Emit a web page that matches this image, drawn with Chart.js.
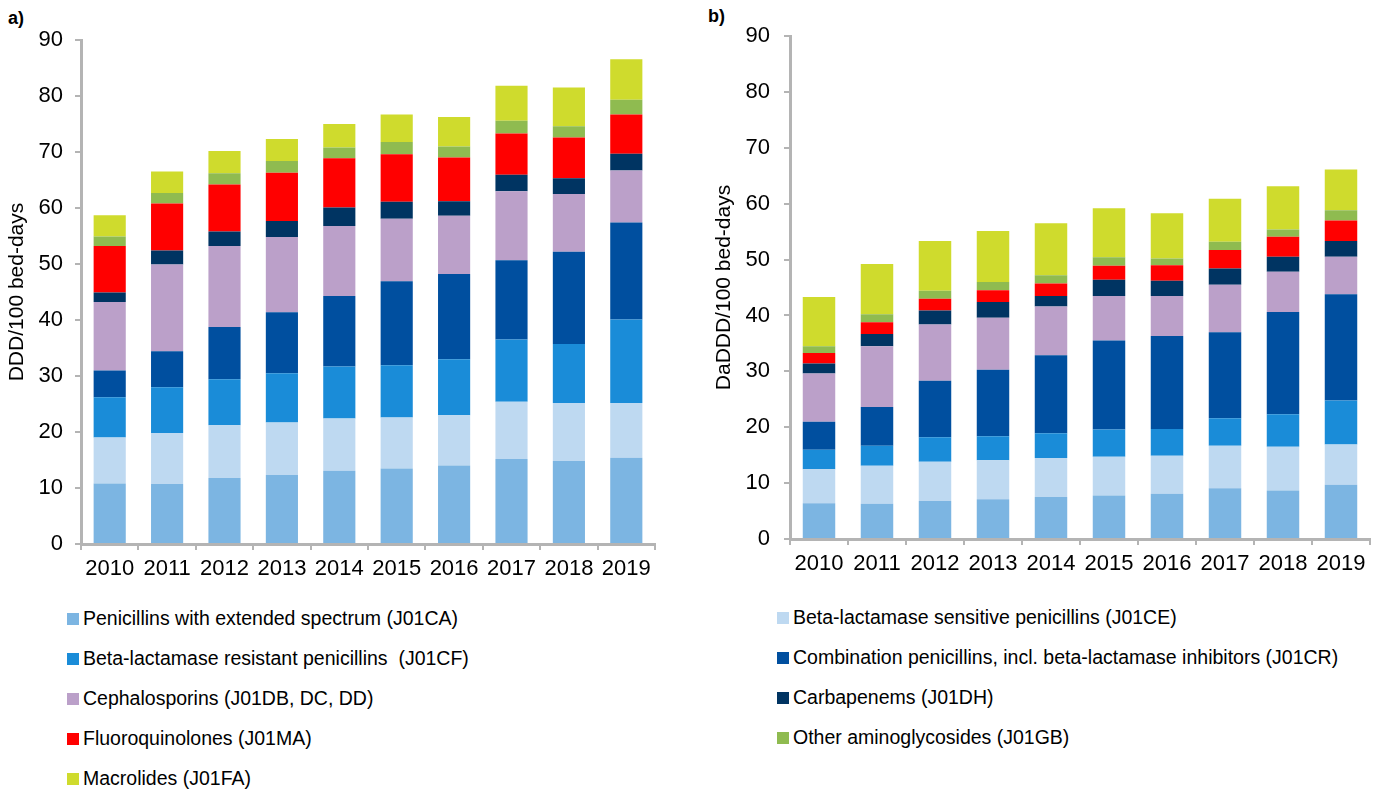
<!DOCTYPE html>
<html>
<head>
<meta charset="utf-8">
<script src="https://cdn.jsdelivr.net/npm/chart.js@4.4.1/dist/chart.umd.min.js"></script>
<style>
  body { margin: 0; background: #fff; font-family: "Liberation Sans", Arial, sans-serif; color: #000; }
  .panel { position: absolute; top: 0; }
  .tag { position: absolute; font-weight: bold; font-size: 18px; }
  .leg { position: absolute; font-size: 19.5px; white-space: pre; }
  .leg span.sq { position: absolute; left: 0; top: 4px; width: 12px; height: 12px; }
  .leg span.tx { position: absolute; left: 16px; top: -2px; }
</style>
</head>
<body>
<div class="tag" style="left:8px;top:8px">a)</div>
<div class="tag" style="left:708px;top:6px">b)</div>
<canvas id="chartA" class="panel" style="left:0px" width="680" height="590"></canvas>
<canvas id="chartB" class="panel" style="left:700px" width="683" height="590"></canvas>
<div id="legend"></div>
<script>
// categories
const years = ['2010', '2011', '2012', '2013', '2014', '2015', '2016', '2017', '2018', '2019'];

// series names, in stacking order (bottom to top)
const seriesNames = [
  'Penicillins with extended spectrum (J01CA)',
  'Beta-lactamase sensitive penicillins (J01CE)',
  'Beta-lactamase resistant penicillins  (J01CF)',
  'Combination penicillins, incl. beta-lactamase inhibitors (J01CR)',
  'Cephalosporins (J01DB, DC, DD)',
  'Carbapenems (J01DH)',
  'Fluoroquinolones (J01MA)',
  'Other aminoglycosides (J01GB)',
  'Macrolides (J01FA)'
];
const seriesColors = ['#7cb5e2', '#bed9f1', '#1a8cd8', '#004f9f', '#bba0c9', '#003462', '#ff0000', '#8fbb50', '#cfdb2d'];

// a) DDD/100 bed-days
const aJ01CA = [10.8, 10.7, 11.8, 12.3, 13.1, 13.5, 14.0, 15.2, 14.8, 15.4];
const aJ01CE = [8.2, 9.1, 9.4, 9.4, 9.3, 9.1, 9.0, 10.2, 10.4, 9.8];
const aJ01CF = [7.2, 8.2, 8.2, 8.8, 9.3, 9.3, 10.0, 11.1, 10.5, 14.9];
const aJ01CR = [4.8, 6.4, 9.35, 10.9, 12.6, 15.0, 15.2, 14.15, 16.5, 17.3];
const aCeph = [12.2, 15.5, 14.45, 13.4, 12.5, 11.2, 10.4, 12.35, 10.3, 9.3];
const aCarb = [1.7, 2.5, 2.6, 2.9, 3.3, 3.0, 2.6, 2.95, 2.8, 3.0];
const aFluoro = [8.3, 8.4, 8.4, 8.6, 8.8, 8.5, 7.8, 7.35, 7.3, 7.0];
const aAmino = [1.7, 1.9, 2.0, 2.1, 1.9, 2.2, 2.0, 2.3, 2.0, 2.65];
const aMacro = [3.8, 3.8, 4.0, 3.9, 4.2, 4.9, 5.25, 6.25, 6.9, 7.2];

// b) DaDDD/100 bed-days
const bJ01CA = [6.4, 6.3, 6.8, 7.1, 7.5, 7.8, 8.1, 9.1, 8.7, 9.7];
const bJ01CE = [6.1, 6.8, 7.0, 7.0, 7.0, 6.9, 6.8, 7.6, 7.8, 7.2];
const bJ01CF = [3.45, 3.6, 4.4, 4.3, 4.4, 4.9, 4.8, 4.9, 5.8, 7.9];
const bJ01CR = [5.05, 6.9, 10.1, 11.9, 14.0, 15.9, 16.6, 15.4, 18.3, 19.0];
const bCeph = [8.6, 10.9, 10.1, 9.3, 8.7, 8.0, 7.2, 8.5, 7.2, 6.7];
const bCarb = [1.8, 2.2, 2.5, 2.8, 1.9, 2.9, 2.7, 2.9, 2.7, 2.8];
const bFluoro = [1.9, 2.1, 2.1, 2.1, 2.2, 2.5, 2.8, 3.3, 3.6, 3.7];
const bAmino = [1.2, 1.4, 1.4, 1.5, 1.5, 1.5, 1.2, 1.5, 1.3, 1.8];
const bMacro = [8.8, 9.0, 8.9, 9.1, 9.3, 8.8, 8.1, 7.7, 7.7, 7.3];

// y axis ticks
const yTicks = [0, 10, 20, 30, 40, 50, 60, 70, 80, 90];

const seriesA = [aJ01CA, aJ01CE, aJ01CF, aJ01CR, aCeph, aCarb, aFluoro, aAmino, aMacro];
const seriesB = [bJ01CA, bJ01CE, bJ01CF, bJ01CR, bCeph, bCarb, bFluoro, bAmino, bMacro];

Chart.defaults.font.family = '"Liberation Sans", Arial, sans-serif';
Chart.defaults.color = '#000';
const axisGrey = '#b4b4b4';

function makeChart(id, series, title, opt) {
  const ctx = document.getElementById(id).getContext('2d');
  return new Chart(ctx, {
    type: 'bar',
    data: {
      labels: years,
      datasets: series.map(function (vals, i) {
        return {
          label: seriesNames[i],
          data: vals,
          backgroundColor: seriesColors[i],
          borderWidth: 0,
          barPercentage: 0.56,
          categoryPercentage: 1.0
        };
      })
    },
    options: {
      responsive: false,
      animation: false,
      layout: { padding: { top: opt.top, right: opt.right, left: 0, bottom: 0 } },
      plugins: { legend: { display: false }, tooltip: { enabled: false } },
      scales: {
        x: {
          stacked: true,
          afterFit: function (s) { s.height = opt.xHeight; },
          grid: { drawOnChartArea: false, drawTicks: true, tickLength: 6, color: axisGrey, lineWidth: 2 },
          border: { color: axisGrey, width: 3 },
          ticks: { font: { size: 22 }, padding: 6, maxRotation: 0 }
        },
        y: {
          stacked: true,
          min: 0,
          max: 90,
          afterFit: function (s) { s.width = opt.yWidth; },
          afterBuildTicks: function (s) { s.ticks = yTicks.map(function (v) { return { value: v }; }); },
          grid: { drawOnChartArea: false, drawTicks: true, tickLength: 6, color: axisGrey, lineWidth: 2 },
          border: { color: axisGrey, width: 3 },
          ticks: { font: { size: 22 }, padding: opt.tickPad },
          title: { display: true, text: title, font: { size: 21 }, padding: { top: opt.titlePad, bottom: 0 } }
        }
      }
    }
  });
}

makeChart('chartA', seriesA, 'DDD/100 bed-days', { top: 40, right: 25, xHeight: 46, yWidth: 81, tickPad: 12, titlePad: 5 });
makeChart('chartB', seriesB, 'DaDDD/100 bed-days', { top: 36, right: 13, xHeight: 51, yWidth: 90, tickPad: 14, titlePad: 12 });

// legend: two columns, row-major order like the original
const legendCols = [
  { left: 67, top: 609, items: [0, 2, 4, 6, 8] },
  { left: 777, top: 608, items: [1, 3, 5, 7] }
];
const legendEl = document.getElementById('legend');
legendCols.forEach(function (col) {
  col.items.forEach(function (idx, row) {
    const d = document.createElement('div');
    d.className = 'leg';
    d.style.left = col.left + 'px';
    d.style.top = (col.top + row * 40) + 'px';
    d.innerHTML = '<span class="sq" style="background:' + seriesColors[idx] + '"></span><span class="tx"></span>';
    d.querySelector('.tx').textContent = seriesNames[idx];
    legendEl.appendChild(d);
  });
});
</script>
</body>
</html>
